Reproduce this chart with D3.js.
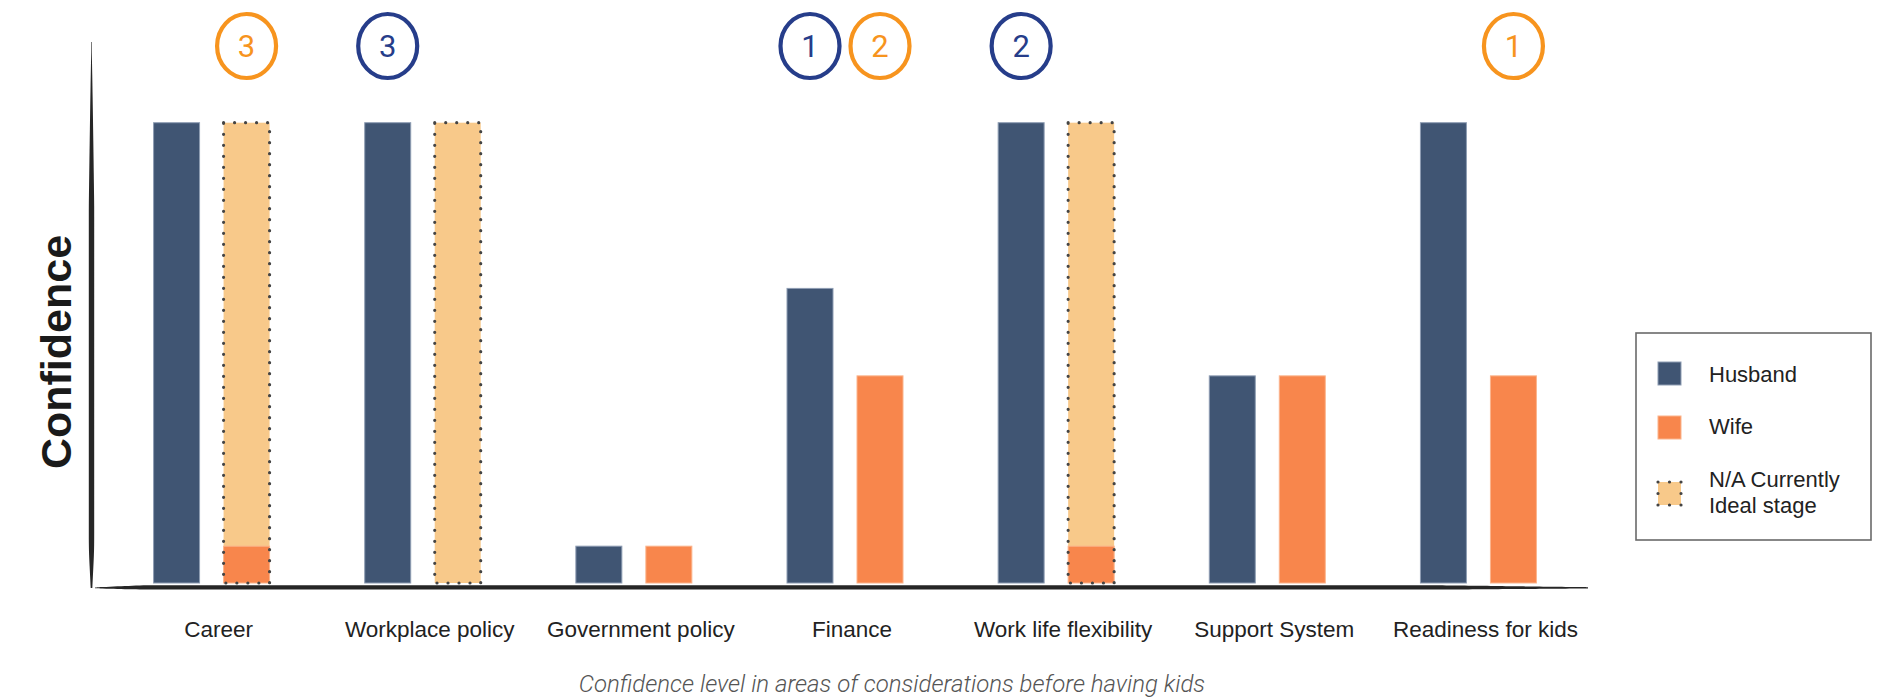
<!DOCTYPE html>
<html>
<head>
<meta charset="utf-8">
<script src="https://cdn.jsdelivr.net/npm/d3@7"></script>
<style>
  body { margin: 0; background: #fff; }
  svg { display: block; }
</style>
</head>
<body>
<svg id="chart" width="1883" height="699"></svg>
<script>
// ---------- DATA ----------
const categories = ["Career", "Workplace policy", "Government policy", "Finance",
                    "Work life flexibility", "Support System", "Readiness for kids"];
const husbandValues = [100, 100, 8, 64, 100, 45, 100];
const wifeValues    = [8, 0, 8, 45, 8, 45, 45];
const naIdealValues = [100, 100, 0, 0, 100, 0, 0];   // "N/A Currently Ideal stage" (wife)
const husbandRank   = [null, 3, null, 1, 2, null, null];
const wifeRank      = [3, null, null, 2, null, null, 1];
const seriesKeys    = ["husband", "wife"];
const legendLabels  = [["Husband"], ["Wife"], ["N/A Currently", "Ideal stage"]];
const yDomain       = [0, 100];
const yTitle        = "Confidence";
const xTitle        = "Confidence level in areas of considerations before having kids";

// ---------- STYLE ----------
const C = {
  husband: "#405573", husbandEdge: "#8e9db3",
  wife: "#F8864C", wifeEdge: "#fbb48c",
  na: "#F8C98A", dots: "#444",
  rankWife: "#F7941E", rankHusband: "#263D8A",
  axis: "#262626", text: "#222"
};
const FONT = "'Liberation Sans', Arial, Helvetica, sans-serif";

const svg = d3.select("#chart");

const rows = categories.map((c, i) => ({
  cat: c, husband: husbandValues[i], wife: wifeValues[i], na: naIdealValues[i],
  husbandRank: husbandRank[i], wifeRank: wifeRank[i]
}));

// ---------- SCALES ----------
const x = d3.scaleBand().domain(categories).range([106, 1584]);
const half = x.bandwidth() / 2;
const xs = d3.scaleBand().domain(seriesKeys).range([half - 58, half + 58]).paddingInner(0.343);
const y = d3.scaleLinear().domain(yDomain).range([583, 122.7]);

// ---------- AXIS LINES (brush-like) ----------
const yLineTop = 42, yLineBot = 588, yLineX = 91.5;
const yProfile = d3.range(0, 1.0001, 0.02).map(t => {
  let w = 2.7 * Math.pow(Math.min(1, t / 0.3), 0.8);
  if (t > 0.93) w *= 1 - (t - 0.93) / 0.07 * 0.7;
  return { t, w: Math.max(0.3, w) };
});
svg.append("path")
  .attr("fill", C.axis)
  .attr("d", d3.area()
    .x0(d => yLineX - d.w).x1(d => yLineX + d.w)
    .y(d => yLineTop + d.t * (yLineBot - yLineTop))
    .curve(d3.curveBasis)(yProfile));

const xLineL = 95, xLineR = 1588, xLineY = 588;
const xProfile = d3.range(0, 1.0001, 0.005).map(t => {
  let w = 2.7;
  if (t < 0.035) w = 0.4 + 2.3 * Math.pow(t / 0.035, 0.7);
  if (t > 0.9) w = 2.7 - 1.9 * ((t - 0.9) / 0.1);
  return { t, w };
});
svg.append("path")
  .attr("fill", C.axis)
  .attr("d", d3.area()
    .y0(d => xLineY - d.w).y1(d => xLineY + d.w * 0.6)
    .x(d => xLineL + d.t * (xLineR - xLineL))
    .curve(d3.curveBasis)(xProfile));

// ---------- BARS ----------
const g = svg.append("g");
const cat = g.selectAll("g.cat").data(rows).join("g")
  .attr("class", "cat")
  .attr("transform", d => `translate(${x(d.cat)},0)`);

// husband
cat.filter(d => d.husband > 0).append("rect")
  .attr("x", xs("husband")).attr("width", xs.bandwidth())
  .attr("y", d => y(d.husband)).attr("height", d => y(0) - y(d.husband))
  .attr("fill", C.husband).attr("stroke", C.husbandEdge).attr("stroke-width", 1);

// N/A fill
cat.filter(d => d.na > 0).append("rect")
  .attr("x", xs("wife")).attr("width", xs.bandwidth())
  .attr("y", d => y(d.na)).attr("height", d => y(0) - y(d.na))
  .attr("fill", C.na);

// wife
cat.filter(d => d.wife > 0).append("rect")
  .attr("x", xs("wife")).attr("width", xs.bandwidth())
  .attr("y", d => y(d.wife)).attr("height", d => y(0) - y(d.wife))
  .attr("fill", C.wife).attr("stroke", C.wifeEdge).attr("stroke-width", 1);

// N/A dotted outline
cat.filter(d => d.na > 0).append("rect")
  .attr("x", xs("wife")).attr("width", xs.bandwidth())
  .attr("y", d => y(d.na)).attr("height", d => y(0) - y(d.na))
  .attr("fill", "none").attr("stroke", C.dots).attr("stroke-width", 3.2)
  .attr("stroke-linecap", "round").attr("stroke-dasharray", "0 11");

// ---------- RANK BADGES ----------
const badges = [];
rows.forEach(d => {
  if (d.wifeRank != null) badges.push({ cat: d.cat, key: "wife", rank: d.wifeRank, color: C.rankWife });
  if (d.husbandRank != null) badges.push({ cat: d.cat, key: "husband", rank: d.husbandRank, color: C.rankHusband });
});
const badge = svg.append("g").selectAll("g").data(badges).join("g")
  .attr("transform", d => `translate(${x(d.cat) + xs(d.key) + xs.bandwidth() / 2},46)`);
badge.append("ellipse").attr("rx", 29.5).attr("ry", 32)
  .attr("fill", "#fff").attr("stroke", d => d.color).attr("stroke-width", 4.2);
badge.append("text").text(d => d.rank)
  .attr("text-anchor", "middle").attr("dy", "0.36em")
  .attr("font-family", "Roboto, 'Liberation Sans', sans-serif").attr("font-size", 31)
  .attr("fill", d => d.color);

// ---------- CATEGORY LABELS ----------
const xAxis = svg.append("g").attr("transform", `translate(0,${y(0)})`)
  .call(d3.axisBottom(x).tickSize(0).tickPadding(38.5));
xAxis.select(".domain").remove();
xAxis.selectAll("text")
  .attr("dx", 7)
  .attr("font-family", FONT).attr("font-size", 22.5).attr("fill", C.text);

// ---------- TITLES ----------
svg.append("text")
  .attr("transform", "translate(71,352) rotate(-90)")
  .attr("text-anchor", "middle")
  .attr("font-family", FONT).attr("font-weight", "bold").attr("font-size", 43)
  .attr("fill", "#1a1a1a")
  .text(yTitle);

svg.append("text")
  .attr("x", 892).attr("y", 692)
  .attr("text-anchor", "middle")
  .attr("font-family", "Roboto, 'Liberation Sans', sans-serif")
  .attr("font-weight", 300).attr("font-style", "italic").attr("font-size", 24)
  .attr("fill", "#555")
  .text(xTitle);

// ---------- LEGEND ----------
const lg = svg.append("g");
lg.append("rect").attr("x", 1636).attr("y", 333).attr("width", 235).attr("height", 207)
  .attr("fill", "#fff").attr("stroke", "#6a6a6a").attr("stroke-width", 1.6);
const legendItems = [
  { label: legendLabels[0], fill: C.husband, edge: C.husbandEdge, dotted: false, sy: 362, ty: 382 },
  { label: legendLabels[1], fill: C.wife, edge: C.wifeEdge, dotted: false, sy: 416, ty: 434 },
  { label: legendLabels[2], fill: C.na, edge: "none", dotted: true, sy: 482, ty: 487 }
];
const li = lg.selectAll("g.li").data(legendItems).join("g").attr("class", "li");
li.append("rect").attr("x", 1658).attr("y", d => d.sy).attr("width", 23).attr("height", 23)
  .attr("fill", d => d.fill).attr("stroke", d => d.edge).attr("stroke-width", 1);
li.filter(d => d.dotted).append("rect")
  .attr("x", 1658).attr("y", d => d.sy).attr("width", 23).attr("height", 23)
  .attr("fill", "none").attr("stroke", C.dots).attr("stroke-width", 3.2)
  .attr("stroke-linecap", "round").attr("stroke-dasharray", "0 11.5");
li.append("text")
  .attr("x", 1709).attr("y", d => d.ty)
  .attr("font-family", FONT).attr("font-size", 22).attr("fill", C.text)
  .selectAll("tspan").data(d => d.label).join("tspan")
  .attr("x", 1709).attr("dy", (d, i) => i === 0 ? 0 : 26)
  .text(d => d);
</script>
</body>
</html>
